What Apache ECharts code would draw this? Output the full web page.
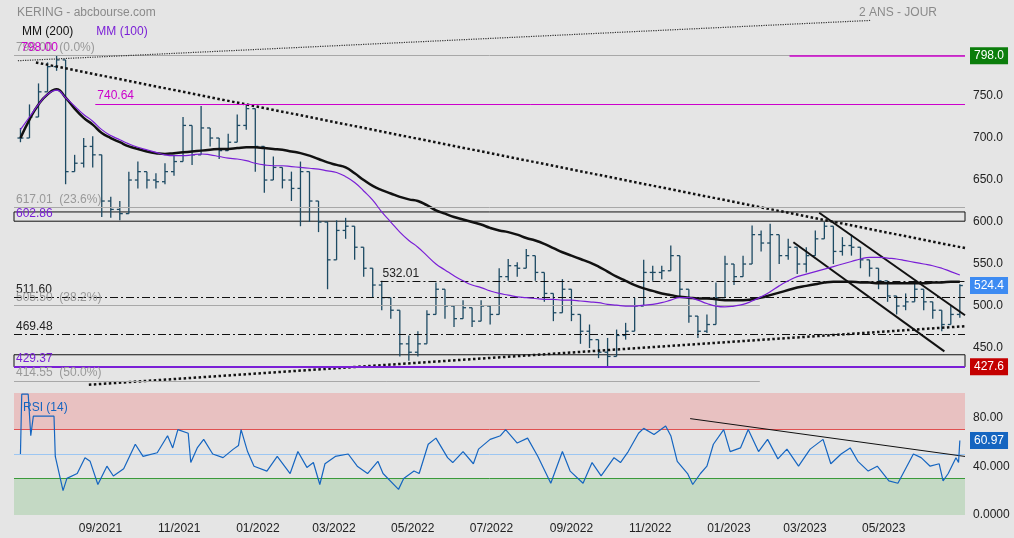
<!DOCTYPE html>
<html>
<head>
<meta charset="utf-8">
<script src="https://cdn.jsdelivr.net/npm/echarts@6/dist/echarts.min.js"></script>
<style>
  html, body { margin: 0; padding: 0; background: #e5e5e5; }
  #chart { width: 1014px; height: 538px; }
</style>
</head>
<body>
<div id="chart"></div>
<script>
// jours depuis le 01/07/2021, une barre par semaine
const weekStep = 7;
const closes = [700,725,755,785,793,660,670,690,680,625,
  615,610,650,660,650,648,660,672,715,680,
  712,700,685,695,715,735,690,650,665,650,
  640,660,625,600,555,590,595,570,545,525,
  510,495,455,445,455,490,520,500,485,498,
  482,500,490,535,548,545,560,540,515,492,
  520,490,470,460,445,440,465,470,500,540,
  540,542,560,520,488,470,478,510,550,535,
  550,585,575,585,560,570,550,560,580,595,
  565,572,570,555,545,530,512,500,505,520,
  505,495,478,490,524.4];
const highs = [712,740,765,790,798,715,680,700,702,660,
  630,625,660,672,660,658,670,680,725,700,
  738,712,700,705,728,740,712,665,678,665,
  660,672,640,615,580,602,605,585,560,545,
  530,510,470,465,470,495,528,515,495,507,
  495,507,500,545,556,552,568,555,530,505,
  532,500,490,478,455,462,472,480,510,555,
  548,548,572,530,498,480,490,528,560,545,
  560,596,590,598,570,580,565,570,590,600,
  585,582,585,565,555,545,520,510,515,527,
  512,505,490,500,526];
const lows = [695,710,740,770,780,645,660,665,665,606,
  605,602,610,640,640,640,645,655,690,668,
  690,690,675,685,700,710,660,635,650,640,
  625,595,600,588,520,575,580,555,535,510,
  495,485,440,435,440,460,505,485,475,485,
  475,485,478,515,530,535,545,530,505,482,
  500,482,455,450,438,428,455,460,480,510,
  530,532,545,512,480,462,468,495,535,525,
  535,570,565,530,550,555,538,540,565,585,
  550,560,560,545,535,520,505,490,495,508,
  495,485,470,480,486];
const mm200 = [700,722,740,752,758,748,735,724,716,706,
  700,695,690,687,684,682,681,682,683,684,
  685,686,687,687,688,689,689,688,687,686,
  684,682,679,675,671,668,665,658,650,643,
  638,634,630,627,625,620,614,610,606,603,
  600,597,593,590,588,585,581,578,574,569,
  564,560,556,552,547,541,535,530,525,521,
  518,515,513,511,510,509,509,508,507,507,
  507,508,510,513,516,519,522,524,526,528,
  529,529,529,528,528,527,527,527,527,527,
  527,528,528,529,529];
const mm100 = [710,725,740,752,757,748,738,728,720,710,
  703,698,693,689,686,683,680,679,679,680,
  681,680,678,676,675,673,670,668,667,667,
  666,665,664,663,661,659,654,647,637,626,
  612,600,588,578,570,560,550,543,536,530,
  525,522,518,515,513,511,510,509,508,508,
  507,507,506,505,504,502,501,500,500,501,
  502,504,507,510,510,507,503,500,499,500,
  502,506,511,517,524,530,535,538,541,544,
  547,550,553,556,558,558,557,556,554,552,
  550,548,545,541,537];
// RSI (14) : [jour, valeur]
const rsiPts = [[0,50],[1,99],[6,99],[8,65],[10,81],[26,81],[27,48],[33,20],[36,30],[44,34],
  [50,47],[54,44],[60,25],[67,40],[72,32],[80,38],[89,58],[95,48],[106,51],[114,65],
  [118,55],[122,70],[130,67],[132,43],[137,55],[142,62],[149,50],[157,47],[165,54],[169,57],
  [171,70],[176,52],[181,40],[191,36],[199,48],[209,34],[215,52],[222,39],[227,43],[232,25],
  [236,42],[244,48],[254,50],[261,40],[269,34],[277,44],[281,34],[293,21],[297,30],[305,36],
  [309,34],[316,58],[322,63],[331,47],[335,43],[343,52],[351,42],[355,54],[364,62],[372,65],
  [376,70],[385,59],[393,63],[401,48],[411,26],[420,52],[426,36],[436,26],[443,43],[450,32],
  [460,47],[465,43],[471,52],[479,67],[483,71],[491,66],[500,73],[504,65],[509,44],[517,34],
  [521,25],[527,34],[532,40],[537,58],[545,70],[550,52],[558,55],[564,70],[572,52],[579,62],
  [587,46],[594,54],[603,40],[612,54],[622,62],[628,42],[636,50],[643,55],[649,44],[657,36],
  [664,40],[673,28],[680,26],[684,34],[692,50],[698,47],[705,40],[712,42],[715,28],[719,34],
  [725,47],[727,43],[728,61]];
const xTickDays = [62,123,184,243,304,365,427,488,549,608,669];
const xTickLabels = ['09/2021','11/2021','01/2022','03/2022','05/2022','07/2022','09/2022','11/2022','01/2023','03/2023','05/2023'];
const priceTicks = [450,500,550,600,650,700,750,800];
const rsiTicks = [0,40,80];
const rsiTickLabels = {0:'0.0000',40:'40.000',80:'80.00'};

const ohlc = closes.map((c, i) => {
  const o = i === 0 ? c : closes[i - 1];
  return [i * weekStep, o, Math.max(highs[i], o, c), Math.min(lows[i], o, c), c];
});
const ma200 = mm200.map((v, i) => [i * weekStep, v]);
const ma100 = mm100.map((v, i) => [i * weekStep, v]);

const chart = echarts.init(document.getElementById('chart'));
const FONT = 'Liberation Sans';
const dashDot = [8, 3, 2, 3];
const blk = '#111';
const fibo = '#a8a8a8';
const mag = '#cc00cc';
const pur = '#7a1fd6';

function seg(x1, y1, x2, y2, style, label) {
  return [{ coord: [x1, y1], lineStyle: style, label: label || { show: false } }, { coord: [x2, y2] }];
}
function lbl(text, color) {
  return { show: true, formatter: text, position: 'insideStartTop', color: color, fontSize: 12, fontFamily: FONT, distance: [2, 2] };
}
function box(text, bg) {
  return { show: true, formatter: text, position: 'end', color: '#fff', backgroundColor: bg, fontSize: 12, fontFamily: FONT, padding: [3, 4, 2, 4], distance: 5 };
}

const option = {
  backgroundColor: '#e5e5e5',
  animation: false,
  textStyle: { fontFamily: FONT },
  title: [
    { text: 'KERING - abcbourse.com', left: 12, top: 2, textStyle: { fontSize: 12, fontWeight: 'normal', color: '#8a8a8a' } },
    { text: '2 ANS - JOUR', right: 72, top: 2, textStyle: { fontSize: 12, fontWeight: 'normal', color: '#8a8a8a' } },
    { text: 'RSI (14)', left: 18, top: 397, textStyle: { fontSize: 12, fontWeight: 'normal', color: '#1565c0' } }
  ],
  legend: {
    left: 12, top: 20, itemGap: 18, icon: 'none', itemWidth: 0, selectedMode: false,
    data: [
      { name: 'MM (200)', textStyle: { color: '#111', fontSize: 12 } },
      { name: 'MM (100)', textStyle: { color: pur, fontSize: 12 } }
    ]
  },
  grid: [
    { left: 14, right: 49, top: 20, height: 365 },
    { left: 14, right: 49, top: 393, height: 122 }
  ],
  xAxis: [
    { type: 'value', gridIndex: 0, min: -5, max: 732, axisLine: { show: false }, axisTick: { show: false },
      axisLabel: { show: false }, splitLine: { show: false } },
    { type: 'value', gridIndex: 1, min: -5, max: 732, axisLine: { show: false }, axisTick: { show: false },
      splitLine: { show: false },
      axisLabel: { customValues: xTickDays, color: '#222', fontSize: 12, margin: 8,
        formatter: v => xTickLabels[xTickDays.indexOf(v)] || '' } }
  ],
  yAxis: [
    { type: 'value', gridIndex: 0, position: 'right', min: 406, max: 840.5, axisLine: { show: false },
      axisTick: { show: false }, splitLine: { show: false },
      axisLabel: { customValues: priceTicks, color: '#222', fontSize: 12, margin: 8, formatter: v => v.toFixed(1) } },
    { type: 'value', gridIndex: 1, position: 'right', min: 0, max: 100, axisLine: { show: false },
      axisTick: { show: false }, splitLine: { show: false },
      axisLabel: { customValues: rsiTicks, color: '#222', fontSize: 12, margin: 8, formatter: v => rsiTickLabels[v] } }
  ],
  series: [
    {
      name: 'KERING', type: 'custom', xAxisIndex: 0, yAxisIndex: 0, data: ohlc, z: 3,
      encode: { x: 0, y: [1, 2, 3, 4] },
      renderItem: (params, api) => {
        const x = api.value(0);
        const o = api.coord([x, api.value(1)]);
        const h = api.coord([x, api.value(2)]);
        const l = api.coord([x, api.value(3)]);
        const c = api.coord([x, api.value(4)]);
        const st = { stroke: '#1d4a63', lineWidth: 1.3 };
        return { type: 'group', children: [
          { type: 'line', shape: { x1: h[0], y1: h[1], x2: l[0], y2: l[1] }, style: st },
          { type: 'line', shape: { x1: o[0] - 3, y1: o[1], x2: o[0], y2: o[1] }, style: st },
          { type: 'line', shape: { x1: c[0], y1: c[1], x2: c[0] + 3, y2: c[1] }, style: st }
        ] };
      }
    },
    { name: 'MM (200)', type: 'line', xAxisIndex: 0, yAxisIndex: 0, data: ma200, smooth: true, showSymbol: false,
      lineStyle: { color: '#111', width: 2.5 }, itemStyle: { color: '#111' }, z: 4 },
    { name: 'MM (100)', type: 'line', xAxisIndex: 0, yAxisIndex: 0, data: ma100, smooth: true, showSymbol: false,
      lineStyle: { color: pur, width: 1.2 }, itemStyle: { color: pur }, z: 5 },
    {
      name: 'annot', type: 'line', xAxisIndex: 0, yAxisIndex: 0, data: [], silent: true, z: 6,
      markArea: {
        silent: true,
        itemStyle: { color: 'rgba(0,0,0,0)', borderColor: '#111', borderWidth: 1 },
        data: [[{ coord: [-5, 612] }, { coord: [732, 601] }], [{ coord: [-5, 442] }, { coord: [732, 427.6] }]]
      },
      markLine: {
        silent: true, symbol: 'none', animation: false,
        data: [
          seg(-5, 798, 732, 798, { color: fibo, width: 1, type: 'solid' }, lbl('798.00  (0.0%)', '#999')),
          seg(-1, 798, 60, 798, { color: 'rgba(0,0,0,0)', width: 0 }, lbl('798.00', mag)),
          seg(596, 798.3, 732, 798.3, { color: mag, width: 1.5, type: 'solid' }),
          seg(-2, 792, 659, 840, { color: '#333', width: 1.2, type: 'dotted' }),
          seg(12, 790, 732, 569, { color: blk, width: 2.5, type: 'dotted' }),
          seg(53, 406.3, 732, 476, { color: blk, width: 2.5, type: 'dotted' }),
          seg(58, 740.64, 732, 740.64, { color: mag, width: 1, type: 'solid' }, lbl('740.64', mag)),
          seg(-5, 617.01, 732, 617.01, { color: fibo, width: 1, type: 'solid' }, lbl('617.01  (23.6%)', '#999')),
          seg(-5, 601, 200, 601, { color: 'rgba(0,0,0,0)', width: 0 }, lbl('602.86', pur)),
          seg(279, 529, 732, 529, { color: blk, width: 1, type: dashDot }, lbl('532.01', '#222')),
          seg(-5, 510, 732, 510, { color: blk, width: 1, type: dashDot }, lbl('511.60', '#222')),
          seg(-5, 501, 573, 501, { color: fibo, width: 1.2, type: 'solid' }, lbl('505.50  (38.2%)', '#999')),
          seg(-5, 466, 732, 466, { color: blk, width: 1, type: dashDot }, lbl('469.48', '#222')),
          seg(-5, 427.6, 732, 427.6, { color: pur, width: 2, type: 'solid' }, lbl('429.37', pur)),
          seg(-5, 411, 573, 411, { color: fibo, width: 1, type: 'solid' }, lbl('414.55  (50.0%)', '#999')),
          seg(619, 611, 732, 489, { color: blk, width: 2, type: 'solid' }),
          seg(599, 576, 716, 446, { color: blk, width: 2, type: 'solid' }),
          { yAxis: 798, lineStyle: { width: 0, color: 'rgba(0,0,0,0)' }, label: box('798.0', '#0b7d0b') },
          { yAxis: 524.4, lineStyle: { width: 0, color: 'rgba(0,0,0,0)' }, label: box('524.4', '#3d8bf2') },
          { yAxis: 427.6, lineStyle: { width: 0, color: 'rgba(0,0,0,0)' }, label: box('427.6', '#c40000') }
        ]
      },
      markPoint: {
        silent: true, symbol: 'none',
        data: [{ coord: [440, 676], label: { show: true, formatter: 'R', color: '#111', fontSize: 18, fontFamily: FONT } }]
      }
    },
    {
      name: 'RSI (14)', type: 'line', xAxisIndex: 1, yAxisIndex: 1, data: rsiPts, showSymbol: false,
      lineStyle: { color: '#1565c0', width: 1.2 }, itemStyle: { color: '#1565c0' }, z: 5,
      markArea: {
        silent: true,
        data: [
          [{ yAxis: 70, itemStyle: { color: '#e8c1c1' } }, { yAxis: 100 }],
          [{ yAxis: 0, itemStyle: { color: '#c4d9c4' } }, { yAxis: 30 }]
        ]
      },
      markLine: {
        silent: true, symbol: 'none', animation: false,
        data: [
          { yAxis: 70, lineStyle: { color: '#e05050', width: 1, type: 'solid' }, label: { show: false } },
          { yAxis: 50, lineStyle: { color: '#9cc6f2', width: 1, type: 'solid' }, label: { show: false } },
          { yAxis: 30, lineStyle: { color: '#3a9a3a', width: 1, type: 'solid' }, label: { show: false } },
          seg(519, 79, 732, 48, { color: blk, width: 1, type: 'solid' }),
          { yAxis: 60.97, lineStyle: { width: 0, color: 'rgba(0,0,0,0)' }, label: box('60.97', '#1565c0') }
        ]
      }
    }
  ]
};
chart.setOption(option);
window.addEventListener('resize', chart.resize);
</script>
</body>
</html>
